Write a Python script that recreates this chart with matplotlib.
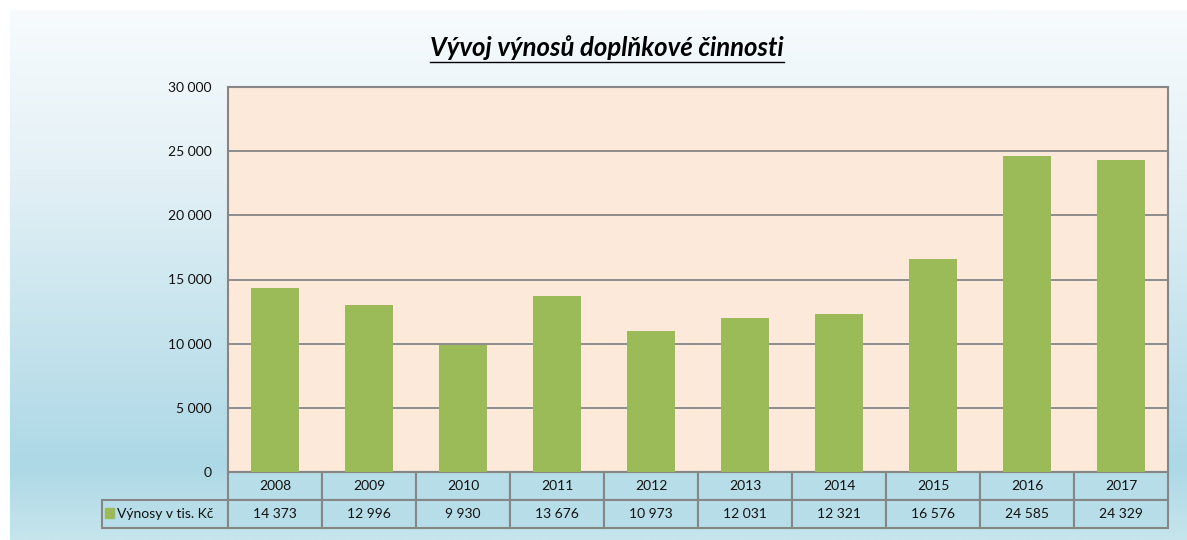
import matplotlib.pyplot as plt
import numpy as np
from matplotlib.colors import LinearSegmentedColormap
from matplotlib.patches import Rectangle
from matplotlib.lines import Line2D

plt.rcParams['font.family'] = ['Lato', 'DejaVu Sans']

years = ['2008', '2009', '2010', '2011', '2012', '2013', '2014', '2015', '2016', '2017']
values = [14373, 12996, 9930, 13676, 10973, 12031, 12321, 16576, 24585, 24329]
series_name = 'Výnosy v tis. Kč'
title = 'Vývoj výnosů doplňkové činnosti'
y_ticks = [0, 5000, 10000, 15000, 20000, 25000, 30000]


def fmt(v):
    return f'{v:,}'.replace(',', ' ')


W, H = 1187, 540
fig = plt.figure(figsize=(W / 100, H / 100), dpi=100)

# gradient background of the chart area
bg = fig.add_axes([10 / W, 0, 1 - 10 / W, 1 - 10 / H], zorder=-1)
cmap = LinearSegmentedColormap.from_list(
    'bg', [(0, '#F7FBFD'), (0.3, '#E4F1F6'), (0.86, '#ADD8E6'), (1, '#C6E5ED')])
bg.imshow(np.linspace(0, 1, 256)[:, None], aspect='auto', cmap=cmap,
          extent=[0, 1, 0, 1], origin='upper')
bg.axis('off')

# plot area
ax = fig.add_axes([228 / W, 1 - 472 / H, 940 / W, 385 / H])
ax.set_facecolor('#FDE9D9')
x = np.arange(len(years))
ax.bar(x, values, width=0.51, color='#9BBB59', zorder=3)
ax.set_xlim(-0.5, len(years) - 0.5)
ax.set_ylim(0, 30000)
ax.set_yticks(y_ticks)
ax.set_yticklabels([fmt(v) for v in y_ticks])
ax.yaxis.grid(True, color='#868686', lw=1.3)
ax.set_axisbelow(True)
ax.tick_params(axis='y', length=0, pad=12, labelsize=10, labelcolor='#111111')
ax.set_xticks([])
for s in ax.spines.values():
    s.set_color('#868686')
    s.set_linewidth(1.5)

# data table under the axis
cell_text = [[''] + years, [series_name] + [fmt(v) for v in values]]
tbl = ax.table(cellText=cell_text, colWidths=[126] + [94] * len(years),
               cellLoc='center', bbox=[-126 / 940, -56 / 385, 1 + 126 / 940, 56 / 385])
tbl.auto_set_font_size(False)
tbl.set_fontsize(10)
for (r, c), cell in tbl.get_celld().items():
    cell.set_facecolor('#B7DEE8')
    cell.set_edgecolor('#868686')
    cell.set_linewidth(1.5)
    cell.get_text().set_color('#111111')
    if r == 0 and c == 0:
        cell.set_facecolor('none')
        cell.set_linewidth(0)
    if r == 1 and c == 0:
        cell._loc = 'left'
        cell.PAD = 0.15

# legend key in the table
fig.add_artist(Rectangle((105 / W, 1 - 518 / H), 9 / W, 10 / H,
                         transform=fig.transFigure, color='#9BBB59'))

# underlined title
t = fig.text(607 / W, 1 - 48 / H, title, ha='center', va='center',
             fontsize=18.5, fontweight='bold', fontstyle='italic')
fig.canvas.draw()
bb = t.get_window_extent().transformed(fig.transFigure.inverted())
fig.add_artist(Line2D([bb.x0, bb.x1], [1 - 62 / H] * 2, transform=fig.transFigure,
                      color='black', lw=1.0))

fig.savefig('out.png', dpi=100)
